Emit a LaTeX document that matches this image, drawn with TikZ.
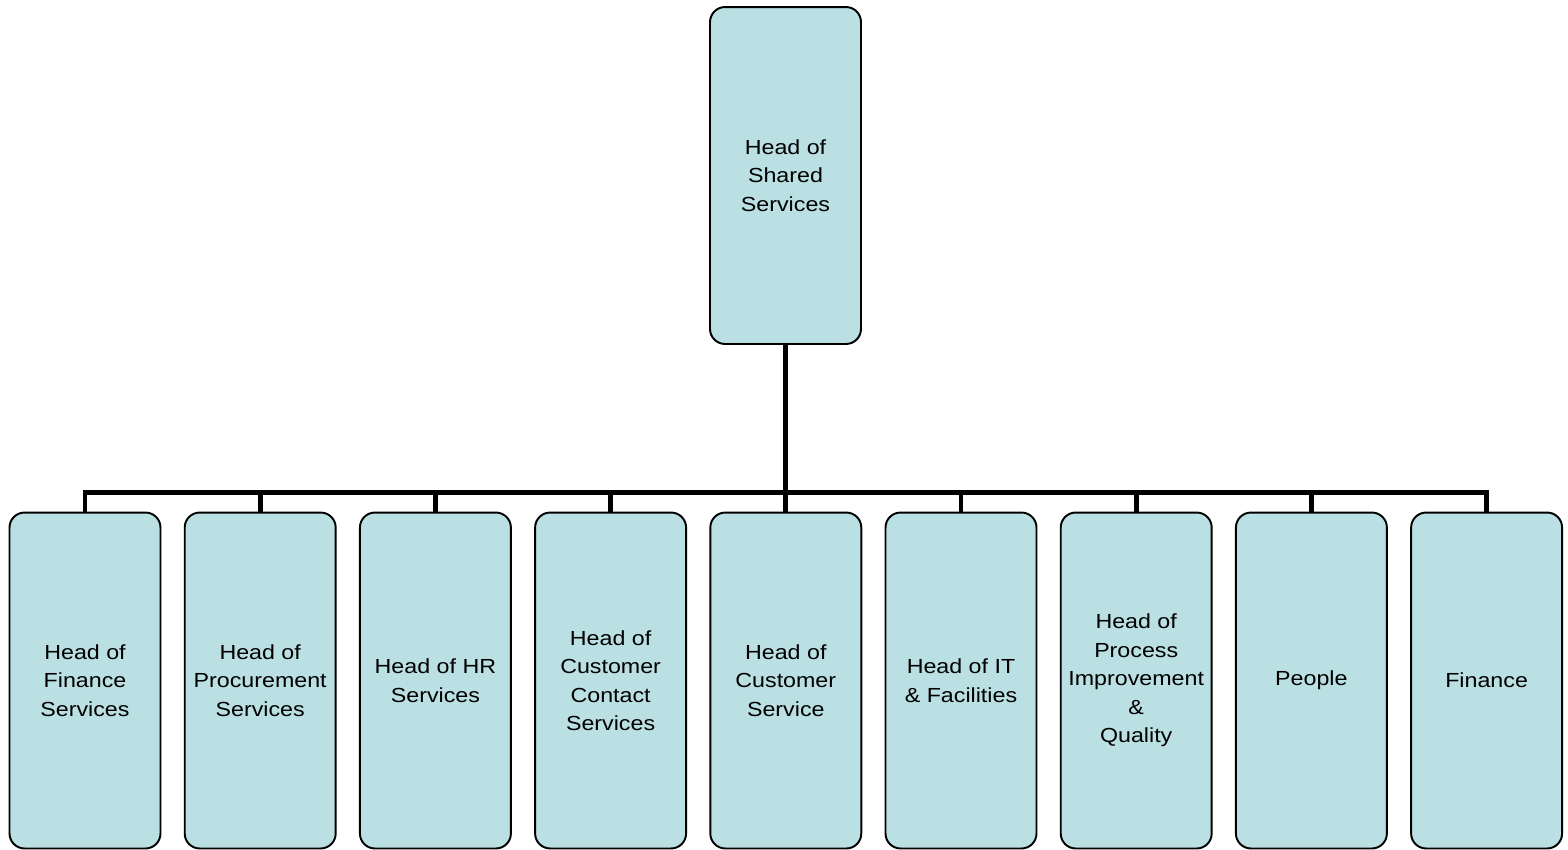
\documentclass[tikz,border=0pt]{standalone}
\usepackage{fontspec}
\setmainfont{Liberation Sans}[FakeStretch=1.14]
\usepackage{tikz}
\definecolor{boxfill}{RGB}{186,224,227}

\tikzset{
  unit/.style={draw, rectangle, rounded corners=0.3cm, fill=boxfill, line width=1.1pt,
    minimum width=3.02cm, minimum height=6.72cm, inner sep=0pt, align=center,
    font=\fontsize{11.6}{16.2}\selectfont},
  link/.style={line width=2.8pt}
}

\begin{document}
\begin{tikzpicture}[x=0.02cm, y=-0.02cm]
				\useasboundingbox (0,0) rectangle (1568,849);
				% top of the tree
				\node[unit, minimum height=6.74cm] (HSS)at(785.5, 175.5) {Head of\\Shared\\Services};
				% second row
				\node[unit] (HFS)at(85, 680.5) {Head of\\Finance\\Services};
				\node[unit] (HPS)at(260.2, 680.5) {Head of\\Procurement\\Services};
				\node[unit] (HHR)at(435.4, 680.5) {Head of HR\\Services};
				\node[unit] (HCCS)at(610.6, 680.5) {Head of\\Customer\\Contact\\Services};
				\node[unit] (HCS)at(785.8, 680.5) {Head of\\Customer\\Service};
				\node[unit] (HIT)at(961, 680.5) {Head of IT\\\& Facilities};
				\node[unit] (HPIQ)at(1136.2, 680.5) {Head of\\Process\\Improvement\\\&\\Quality};
				\node[unit] (PPL)at(1311.4, 680.5) {People};
				\node[unit] (FIN)at(1486.6, 680.5) {Finance};
				% connectors
				\coordinate (bar) at (785.5, 492.5);
				\draw[link] (HSS.south) -- (bar);
				\draw[link] (HFS.north) |- (FIN.north |- bar) -- (FIN.north);
				\draw[link] (HPS.north) -- (HPS.north |- bar);
				\draw[link] (HHR.north) -- (HHR.north |- bar);
				\draw[link] (HCCS.north) -- (HCCS.north |- bar);
				\draw[link] (HCS.north) -- (HCS.north |- bar);
				\draw[link] (HIT.north) -- (HIT.north |- bar);
				\draw[link] (HPIQ.north) -- (HPIQ.north |- bar);
				\draw[link] (PPL.north) -- (PPL.north |- bar);
			\end{tikzpicture}
\end{document}
